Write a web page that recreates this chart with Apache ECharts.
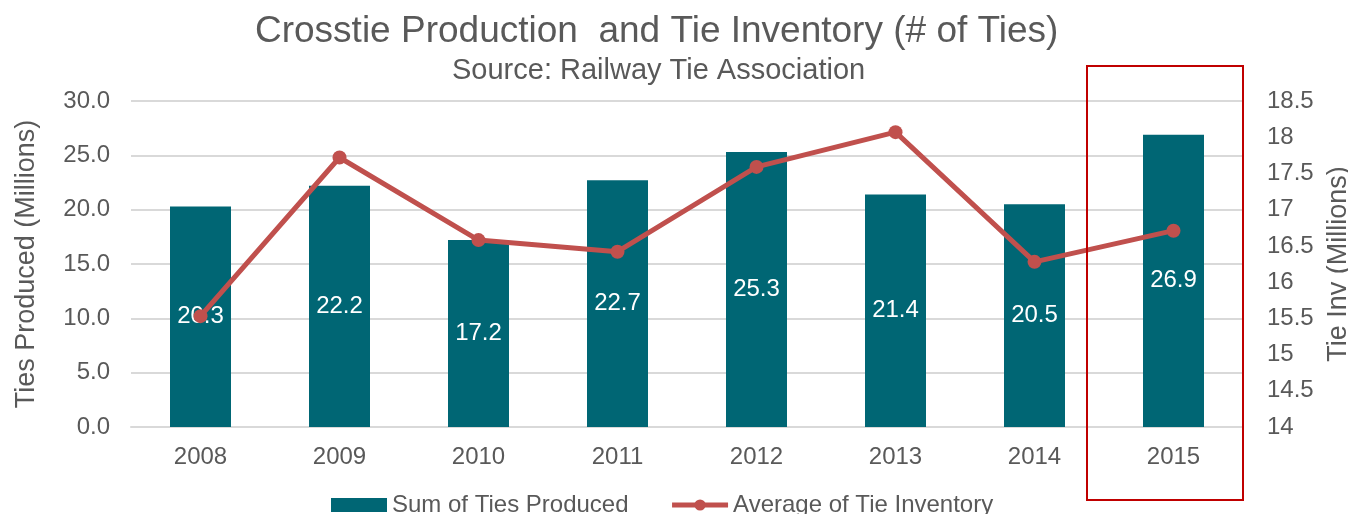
<!DOCTYPE html>
<html>
<head>
<meta charset="utf-8">
<script src="https://cdn.jsdelivr.net/npm/echarts@6/dist/echarts.min.js"></script>
<style>
  html, body { margin: 0; padding: 0; background: #fff; }
  #chart { width: 1348px; height: 514px; }
</style>
</head>
<body>
<div id="chart"></div>
<script>
var years = ["2008", "2009", "2010", "2011", "2012", "2013", "2014", "2015"];
var tiesProduced = [20.3, 22.2, 17.2, 22.7, 25.3, 21.4, 20.5, 26.9];
var tieInventory = [15.53, 17.72, 16.58, 16.42, 17.59, 18.07, 16.28, 16.71];

var textColor = "#595959";
var font = "Liberation Sans, Arial, sans-serif";

var myChart = echarts.init(document.getElementById("chart"));
var chartoptions = {
  animation: false,
  textStyle: { fontFamily: font },
  title: [
    {
      text: "Crosstie Production  and Tie Inventory (# of Ties)",
      left: 250,
      top: 8,
      textStyle: { fontSize: 37, fontWeight: "normal", color: textColor, fontFamily: font }
    },
    {
      text: "Source: Railway Tie Association",
      left: 447,
      top: 51,
      textStyle: { fontSize: 29, fontWeight: "normal", color: textColor, fontFamily: font }
    }
  ],
  grid: { left: 131, right: 105, top: 101, bottom: 87, outerBoundsMode: "none" },
  legend: {
    top: 488,
    left: 326,
    itemGap: 41,
    itemWidth: 56,
    itemHeight: 14,
    textStyle: { fontSize: 24, color: textColor, fontFamily: font },
    data: [
      { name: "Sum of Ties Produced", icon: "rect" },
      { name: "Average of Tie Inventory", lineStyle: { width: 5 } }
    ]
  },
  xAxis: {
    type: "category",
    data: years,
    axisLine: { lineStyle: { color: "#d9d9d9", width: 2 } },
    axisTick: { show: false },
    axisLabel: { fontSize: 24, color: textColor, margin: 18 }
  },
  yAxis: [
    {
      type: "value",
      min: 0,
      max: 30,
      interval: 5,
      name: "Ties Produced (Millions)",
      nameLocation: "middle",
      nameGap: 91,
      nameTextStyle: { fontSize: 27, color: textColor },
      axisLine: { show: false },
      axisTick: { show: false },
      axisLabel: {
        fontSize: 24,
        color: textColor,
        margin: 21,
        formatter: function(v) { return v.toFixed(1); }
      },
      splitLine: { lineStyle: { color: "#d9d9d9", width: 2 } }
    },
    {
      type: "value",
      min: 14,
      max: 18.5,
      interval: 0.5,
      name: "Tie Inv (Millions)",
      nameLocation: "middle",
      nameGap: 79,
      nameRotate: 90,
      nameTextStyle: { fontSize: 27, color: textColor },
      axisLine: { show: false },
      axisTick: { show: false },
      axisLabel: { fontSize: 24, color: textColor, margin: 24 },
      splitLine: { show: false }
    }
  ],
  series: [
    {
      name: "Sum of Ties Produced",
      type: "bar",
      data: tiesProduced,
      barWidth: 61,
      itemStyle: { color: "#006674" },
      label: {
        show: true,
        position: "inside",
        color: "#fff",
        fontSize: 24,
        formatter: function(p) { return p.value.toFixed(1); }
      }
    },
    {
      name: "Average of Tie Inventory",
      type: "line",
      yAxisIndex: 1,
      data: tieInventory,
      symbol: "circle",
      symbolSize: 14,
      lineStyle: { color: "#C0504D", width: 5 },
      itemStyle: { color: "#C0504D" }
    }
  ],
  graphic: [
    {
      type: "rect",
      shape: { x: 1087, y: 66, width: 156, height: 434 },
      style: { fill: "none", stroke: "#C00000", lineWidth: 2 },
      z: 100
    }
  ]
};
myChart.setOption(chartoptions);
</script>
</body>
</html>
